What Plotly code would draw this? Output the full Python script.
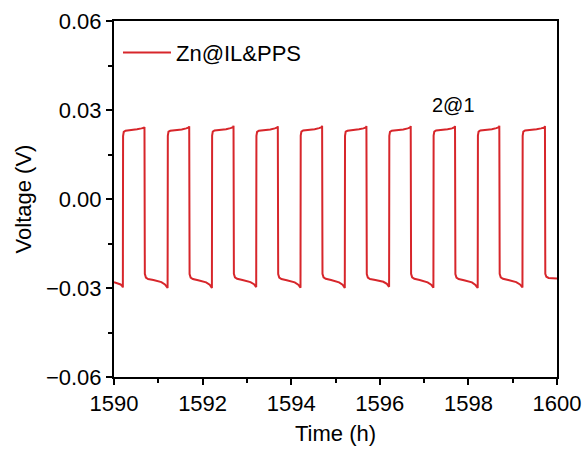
import plotly.graph_objects as go

# Time (h) and voltage (V)
time_h = [
    1590.000, 1590.080, 1590.150, 1590.190,
    1590.200, 1590.205, 1590.220, 1590.260, 1590.400, 1590.520, 1590.620, 1590.678, 1590.688,
    1590.696, 1590.720, 1590.770, 1590.890, 1590.990, 1591.070, 1591.150,
    1591.210, 1591.215, 1591.230, 1591.270, 1591.410, 1591.530, 1591.630, 1591.688, 1591.698,
    1591.706, 1591.730, 1591.780, 1591.900, 1592.000, 1592.080, 1592.160,
    1592.210, 1592.215, 1592.230, 1592.270, 1592.410, 1592.530, 1592.630, 1592.688, 1592.698,
    1592.706, 1592.730, 1592.780, 1592.900, 1593.000, 1593.080, 1593.160,
    1593.210, 1593.215, 1593.230, 1593.270, 1593.410, 1593.530, 1593.630, 1593.688, 1593.698,
    1593.706, 1593.730, 1593.780, 1593.900, 1594.000, 1594.080, 1594.160,
    1594.210, 1594.215, 1594.230, 1594.270, 1594.410, 1594.530, 1594.630, 1594.688, 1594.698,
    1594.706, 1594.730, 1594.780, 1594.900, 1595.000, 1595.080, 1595.160,
    1595.210, 1595.215, 1595.230, 1595.270, 1595.410, 1595.530, 1595.630, 1595.688, 1595.698,
    1595.706, 1595.730, 1595.780, 1595.900, 1596.000, 1596.080, 1596.160,
    1596.210, 1596.215, 1596.230, 1596.270, 1596.410, 1596.530, 1596.630, 1596.688, 1596.698,
    1596.706, 1596.730, 1596.780, 1596.900, 1597.000, 1597.080, 1597.160,
    1597.210, 1597.215, 1597.230, 1597.270, 1597.410, 1597.530, 1597.630, 1597.688, 1597.698,
    1597.706, 1597.730, 1597.780, 1597.900, 1598.000, 1598.080, 1598.160,
    1598.210, 1598.215, 1598.230, 1598.270, 1598.410, 1598.530, 1598.630, 1598.688, 1598.698,
    1598.706, 1598.730, 1598.780, 1598.900, 1599.000, 1599.080, 1599.165,
    1599.220, 1599.225, 1599.240, 1599.280, 1599.420, 1599.540, 1599.640, 1599.718, 1599.728,
    1599.736, 1599.760, 1599.810, 1599.900, 1600.000,
]
voltage_v = [
    -0.0280, -0.0283, -0.0288, -0.0294,
    -0.0298, 0.0212, 0.0226, 0.0230, 0.0232, 0.0235, 0.0238, 0.0240, 0.0243,
    -0.0252, -0.0265, -0.0270, -0.0273, -0.0277, -0.0280, -0.0288,
    -0.0300, 0.0213, 0.0227, 0.0230, 0.0231, 0.0234, 0.0238, 0.0241, 0.0245,
    -0.0253, -0.0265, -0.0270, -0.0274, -0.0278, -0.0281, -0.0289,
    -0.0300, 0.0214, 0.0227, 0.0231, 0.0232, 0.0235, 0.0239, 0.0242, 0.0247,
    -0.0252, -0.0264, -0.0269, -0.0273, -0.0277, -0.0280, -0.0287,
    -0.0297, 0.0213, 0.0226, 0.0230, 0.0231, 0.0234, 0.0238, 0.0241, 0.0245,
    -0.0253, -0.0265, -0.0270, -0.0274, -0.0278, -0.0281, -0.0289,
    -0.0299, 0.0214, 0.0227, 0.0231, 0.0232, 0.0235, 0.0239, 0.0242, 0.0247,
    -0.0252, -0.0264, -0.0269, -0.0273, -0.0277, -0.0281, -0.0289,
    -0.0300, 0.0213, 0.0227, 0.0230, 0.0232, 0.0235, 0.0238, 0.0241, 0.0246,
    -0.0253, -0.0265, -0.0270, -0.0273, -0.0276, -0.0279, -0.0286,
    -0.0296, 0.0213, 0.0226, 0.0230, 0.0231, 0.0234, 0.0238, 0.0241, 0.0246,
    -0.0252, -0.0264, -0.0269, -0.0273, -0.0277, -0.0281, -0.0289,
    -0.0299, 0.0214, 0.0227, 0.0231, 0.0232, 0.0235, 0.0238, 0.0242, 0.0246,
    -0.0253, -0.0265, -0.0270, -0.0274, -0.0278, -0.0281, -0.0290,
    -0.0300, 0.0214, 0.0227, 0.0231, 0.0232, 0.0235, 0.0239, 0.0242, 0.0247,
    -0.0252, -0.0264, -0.0269, -0.0273, -0.0277, -0.0280, -0.0288,
    -0.0298, 0.0213, 0.0227, 0.0231, 0.0232, 0.0235, 0.0238, 0.0241, 0.0246,
    -0.0252, -0.0262, -0.0266, -0.0267, -0.0268,
]

series_name = "Zn@IL&PPS"
annotation_text = "2@1"
x_range = [1590, 1600]
y_range = [-0.06, 0.06]

FONT = "Liberation Sans, Arial, sans-serif"
RED = "#d7262b"

fig = go.Figure()
fig.add_trace(go.Scatter(
    x=time_h, y=voltage_v, mode="lines", name=series_name,
    line=dict(color=RED, width=2),
))

axis_common = dict(
    showline=True, linecolor="black", linewidth=2, mirror=True,
    ticks="outside", ticklen=6, tickwidth=2, tickcolor="black",
    showgrid=False, zeroline=False, automargin=False,
    tickfont=dict(family=FONT, size=22, color="black"),
)

fig.update_xaxes(
    range=x_range, tick0=1590, dtick=2,
    minor=dict(dtick=1, ticks="outside", ticklen=4, tickwidth=1.5, tickcolor="black"),
    title=dict(text="Time (h)", font=dict(family=FONT, size=22, color="black"), standoff=10),
    **axis_common,
)
fig.update_yaxes(
    range=y_range, tick0=-0.06, dtick=0.03, tickformat=".2f",
    minor=dict(dtick=0.015, ticks="outside", ticklen=4, tickwidth=1.5, tickcolor="black"),
    title=dict(text="Voltage (V)", font=dict(family=FONT, size=22, color="black"), standoff=8),
    **axis_common,
)

fig.add_annotation(
    x=1597.67, y=0.0317, text=annotation_text, showarrow=False,
    font=dict(family=FONT, size=20, color="black"),
)

fig.update_layout(
    width=583, height=450,
    margin=dict(l=114, r=26, t=21, b=73, autoexpand=False),
    paper_bgcolor="white", plot_bgcolor="white",
    showlegend=True,
    legend=dict(
        x=0.009, y=0.97, xanchor="left", yanchor="top",
        itemwidth=48,
        bgcolor="rgba(0,0,0,0)", borderwidth=0,
        font=dict(family=FONT, size=22, color="black"),
    ),
)

fig.write_html("out.html")
